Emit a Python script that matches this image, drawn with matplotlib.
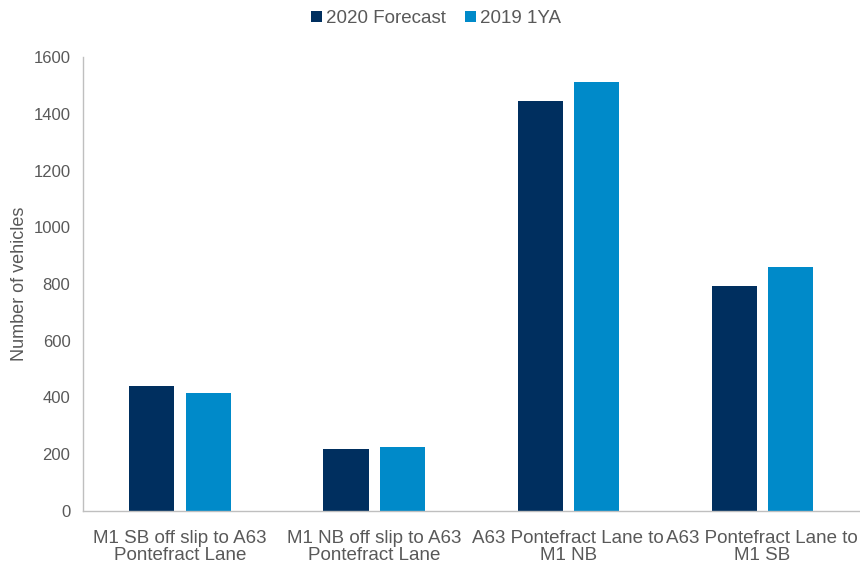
import matplotlib
matplotlib.use("Agg")
import matplotlib.pyplot as plt
import numpy as np

plt.rcParams['font.family'] = ['Liberation Sans', 'DejaVu Sans']

categories = [
    "M1 SB off slip to A63\nPontefract Lane",
    "M1 NB off slip to A63\nPontefract Lane",
    "A63 Pontefract Lane to\nM1 NB",
    "A63 Pontefract Lane to\nM1 SB",
]
forecast_2020 = [440, 217, 1446, 794]
ya_2019 = [415, 225, 1511, 861]
series_names = ["2020 Forecast", "2019 1YA"]
colors = ["#002F5F", "#008AC9"]
yticks = [0, 200, 400, 600, 800, 1000, 1200, 1400, 1600]

text_color = "#595959"
spine_color = "#BFBFBF"

fig = plt.figure(figsize=(8.6, 5.65), dpi=100)
ax = fig.add_axes([0.0965, 0.0956, 0.9025, 0.8035])

x = np.arange(len(categories))
w = 0.232
gap = 0.057
off = (w + gap) / 2
b1 = ax.bar(x - off, forecast_2020, width=w, color=colors[0], label=series_names[0])
b2 = ax.bar(x + off, ya_2019, width=w, color=colors[1], label=series_names[1])

ax.set_xlim(-0.5, len(categories) - 0.5)
ax.set_ylim(0, 1600)
ax.set_yticks(yticks)
ax.set_xticks(x)
ax.set_xticklabels(categories, fontsize=13.5, color=text_color, linespacing=1.0)
ax.tick_params(axis='y', labelsize=12, colors=text_color, length=0, pad=9)
ax.tick_params(axis='x', length=0, pad=13.5)

for s in ['top', 'right']:
    ax.spines[s].set_visible(False)
for s in ['left', 'bottom']:
    ax.spines[s].set_color(spine_color)
    ax.spines[s].set_linewidth(1)

ax.set_ylabel("Number of vehicles", fontsize=13, color=text_color)
ax.yaxis.set_label_coords(-0.071, 0.5)

fig.legend(handles=[b1, b2], labels=series_names, loc='upper center',
           bbox_to_anchor=(0.507, 1.012), ncol=2, frameon=False,
           fontsize=13.5, handlelength=0.6, handleheight=0.6,
           handletextpad=0.2, columnspacing=1.0, labelcolor=text_color)

fig.savefig("out.png", dpi=100)
